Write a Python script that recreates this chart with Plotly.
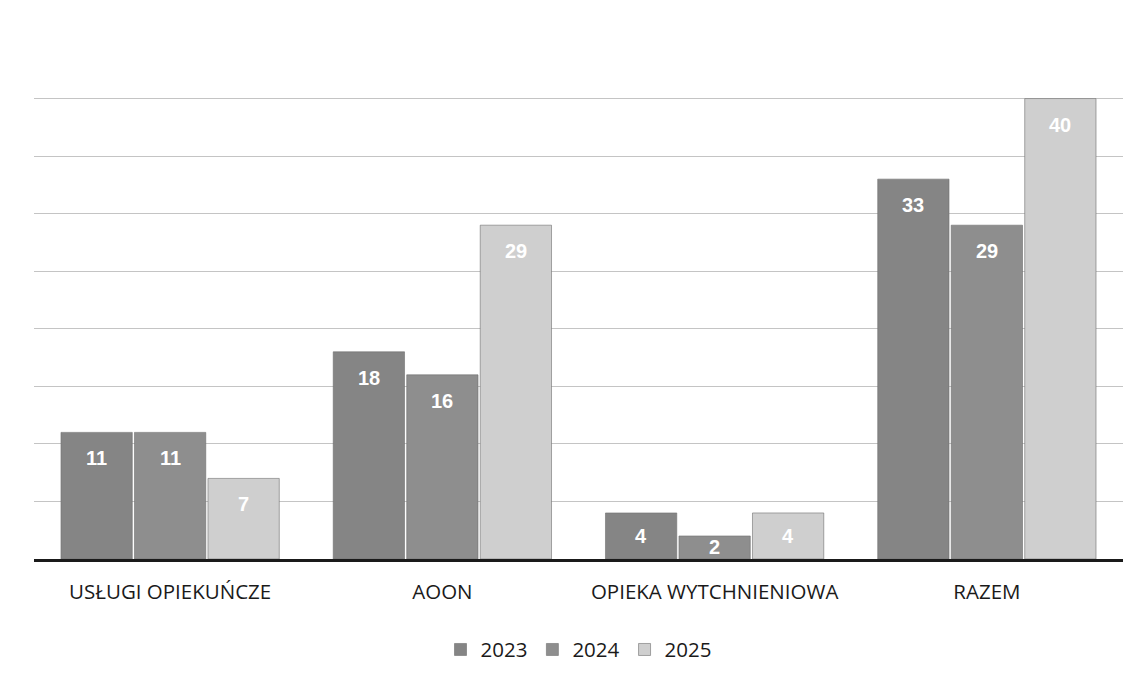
import plotly.graph_objects as go

categories = ["USŁUGI OPIEKUŃCZE", "AOON", "OPIEKA WYTCHNIENIOWA", "RAZEM"]
series_names = ["2023", "2024", "2025"]
values_2023 = [11, 18, 4, 33]
values_2024 = [11, 16, 2, 29]
values_2025 = [7, 29, 4, 40]
series_values = [values_2023, values_2024, values_2025]
colors = ["#858585", "#8e8e8e", "#cfcfcf"]

W, H = 1147, 677
ML, MR, MT, MB = 26, 32, 33, 126
YMAX = 45
BARGAP = 0.19

fig = go.Figure()
for name, vals, col in zip(series_names, series_values, colors):
    fig.add_trace(go.Bar(
        name=name, x=categories, y=vals,
        marker=dict(color=col, line=dict(color="#6e6e6e", width=0.6)),
    ))

# data labels placed inside the top of each bar
plot_w = W - ML - MR
plot_h = H - MT - MB
cat_w = plot_w / len(categories)
slot = cat_w * (1 - BARGAP) / len(series_names)
px_per_unit = plot_h / YMAX
annotations = []
for i, vals in enumerate(series_values):
    for cat, v in zip(categories, vals):
        h = v * px_per_unit
        annotations.append(dict(
            x=cat, y=v, xref="x", yref="y", text=str(v), showarrow=False,
            xshift=(i - 1) * slot, yshift=-min(26, h / 2),
            font=dict(family="Liberation Sans", size=20, color="white", weight="bold"),
        ))

fig.update_layout(
    width=W, height=H,
    margin=dict(l=ML, r=MR, t=MT, b=MB),
    paper_bgcolor="white", plot_bgcolor="white",
    barmode="group", bargap=BARGAP, bargroupgap=0.03,
    font=dict(family="Open Sans", size=20.5, color="#1a1a1a"),
    showlegend=True,
    legend=dict(orientation="h", x=0.5, xanchor="center", y=-0.175, yanchor="middle",
                font=dict(size=20.5, color="#1a1a1a"), itemwidth=30),
    annotations=annotations,
    xaxis=dict(showline=True, linecolor="#1a1a1a", linewidth=2.5, ticks="",
               ticklabelstandoff=13, tickfont=dict(size=20.5, color="#1a1a1a")),
    yaxis=dict(range=[0, YMAX], dtick=5, showgrid=True, gridcolor="#c4c4c4", gridwidth=1,
               showticklabels=False, zeroline=False, ticks=""),
)

fig.write_html("out.html")
